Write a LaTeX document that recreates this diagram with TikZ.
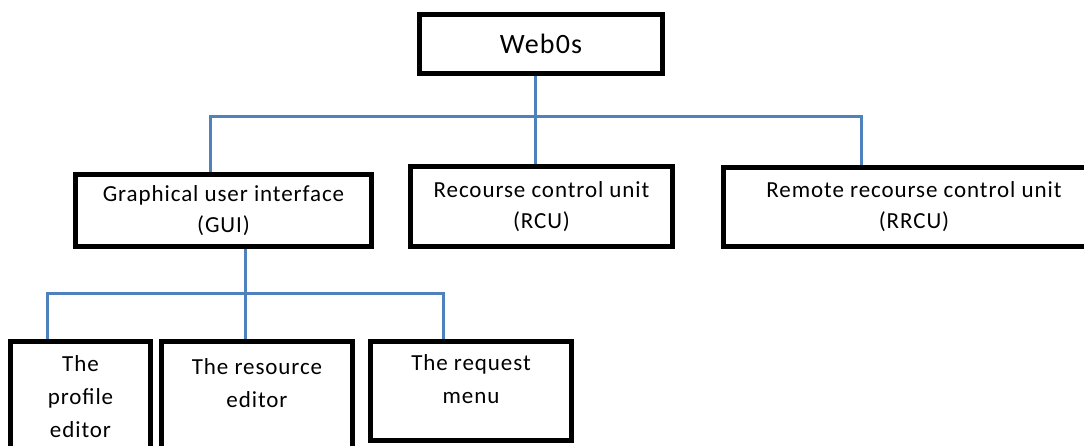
\documentclass[tikz,border=0pt]{standalone}
\usepackage{fontspec}
\setmainfont{Carlito}[LetterSpace=4]
\usetikzlibrary{positioning,backgrounds}
\definecolor{linkblue}{HTML}{4F81BD}

\begin{document}
\begin{tikzpicture}[x=1pt,y=-1pt,
  unit/.style={draw,line width=5pt,inner sep=0pt,align=center,
    font=\fontsize{23}{31}\selectfont},
  caption/.style={inner sep=0pt,align=center,font=\fontsize{23}{33}\selectfont},
  link/.style={draw=linkblue,line width=3pt,line join=miter}]
\useasboundingbox (0,0) rectangle (1084,446);
% top of the tree
\node[unit,minimum width=243pt,minimum height=59pt,
  font=\fontsize{28}{30}\selectfont] (web) at (541,44) {Web0s};
% second row
\node[unit,minimum width=296pt,minimum height=72pt] (gui) at (223.5,210.5)
  {Graphical user interface\\(GUI)};
\node[unit,minimum width=262pt,minimum height=80pt] (rcu) at (541.5,206.5)
  {Recourse control unit\\(RCU)};
\node[unit,minimum width=381pt,minimum height=79pt] (rrcu) at (914,207)
  {Remote recourse control unit\\(RRCU)};
% third row (boxes run off the page)
\node[unit,minimum width=140pt,minimum height=118.5pt] (prof) at (80.5,400.75) {};
\node[unit,minimum width=191pt,minimum height=119pt] (resed) at (257,400.5) {};
\node[unit,minimum width=201pt,minimum height=99pt] (reqm) at (471,391) {};
\node[caption,below=16pt of prof.north] (profText) {The\\profile\\editor};
\node[caption,below=20pt of resed.north] (resedText) {The resource\\editor};
\node[caption,below=15pt of reqm.north] (reqmText) {The request\\menu};
% connectors
\coordinate (hubA) at (535,117);
\coordinate (busL) at (210,117);
\coordinate (busR) at (861,117);
\coordinate (hubB) at (245,294);
\coordinate (busBL) at (47,294);
\coordinate (busBR) at (443,294);
\begin{scope}[on background layer]
\draw[link] (web.south -| hubA) -- (hubA |- rcu.north);
\draw[link] (busL |- gui.north) -- (busL) -- (busR) -- (busR |- rrcu.north);
\draw[link] (gui.south -| hubB) -- (hubB |- resed.north);
\draw[link] (busBL |- prof.north) -- (busBL) -- (busBR) -- (busBR |- reqm.north);
\end{scope}
\end{tikzpicture}
\end{document}
